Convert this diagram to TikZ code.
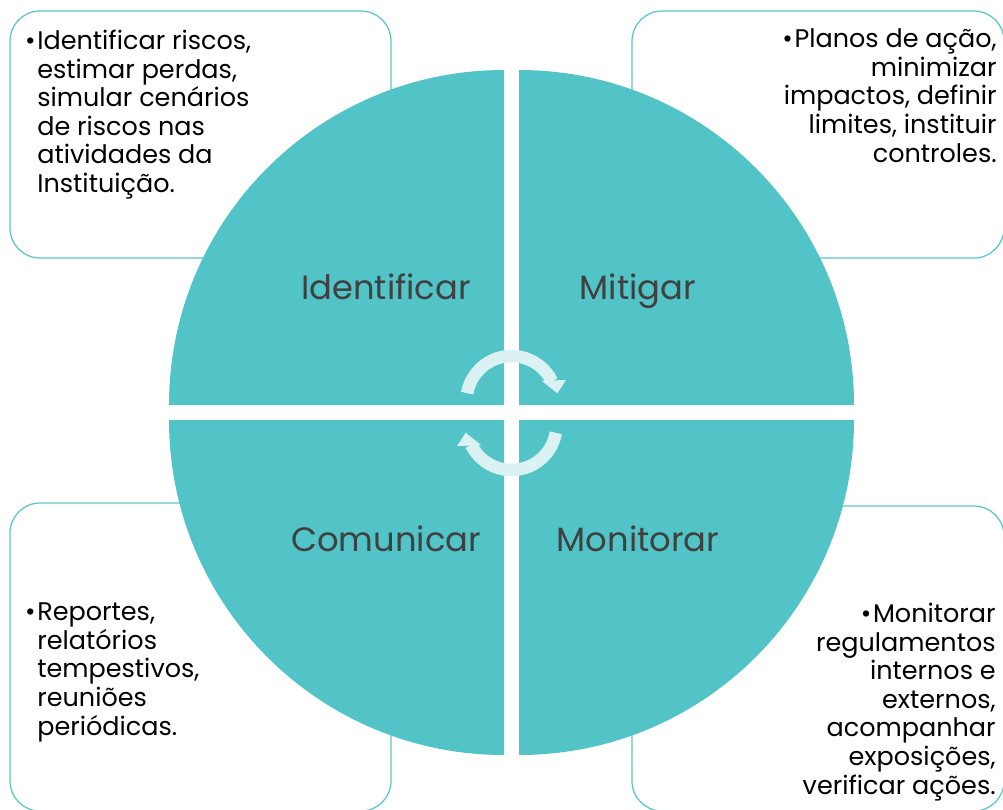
\documentclass[tikz,border=0pt]{standalone}
\usepackage{fontspec}
\setmainfont{Poppins}
\usetikzlibrary{calc}
\definecolor{quadteal}{HTML}{52C3C6}
\definecolor{boxline}{HTML}{5DC5C8}
\definecolor{cyclewhite}{HTML}{DAF2F3}
\definecolor{labelgray}{HTML}{404040}

\begin{document}
\begin{tikzpicture}[x=0.02cm, y=-0.02cm,
		infobox/.style={draw=boxline, line width=0.025cm, rounded corners=0.6cm, fill=white},
		quadrant/.style={fill=quadteal},
		steplabel/.style={text=labelgray, font=\fontsize{19.2}{23}\selectfont, anchor=base, inner sep=0pt},
		notetext/.style={font=\fontsize{14.5}{16.27}\selectfont, inner sep=0pt, text=black},
		cyclearrow/.pic={
			\draw[cyclewhite, line width=0.25cm] (0,-12) ++(190:45) arc (190:334:45);
			\fill[cyclewhite] (30.2,-32.3) -- (54.5,-33) -- (45.8,-19.7) -- cycle;
		}]
			%%%%% START %%%%%
			
			\useasboundingbox (0,0) rectangle (1003,809);
			\clip (0,0) rectangle (1003,809);
			
			% corner boxes
			\draw[infobox] (10,11) rectangle (391,258);
			\draw[infobox] (632,11) rectangle (1004,258);
			\draw[infobox] (10,503) rectangle (391,811);
			\draw[infobox] (632,506) rectangle (1004,811);
			
			% the four quarters of the disc
			\fill[quadrant] (504,405) -- (169,405) arc (180:270:335) -- cycle;
			\fill[quadrant] (519,405) -- (854,405) arc (0:-90:335) -- cycle;
			\fill[quadrant] (504,420) -- (169,420) arc (180:90:335) -- cycle;
			\fill[quadrant] (519,420) -- (854,420) arc (0:90:335) -- cycle;
			
			\pic at (511.5,413) {cyclearrow};
			\pic[rotate=180] at (511.5,413) {cyclearrow};
			
			\node[steplabel] (identify) at (386,299) {Identificar};
			\node[steplabel] (mitigate) at (638,299) {Mitigar};
			\node[steplabel] (report) at (386,551) {Comunicar};
			\node[steplabel] (monitor) at (638,551) {Monitorar};
			
			% notes: anchored at the baseline of their last line
			\node[notetext, anchor=base west, align=left] (identifynote) at (37,192.5)
				{\llap{•\kern1pt}Identificar riscos,\\estimar perdas,\\simular cenários\\de riscos nas\\atividades da\\Instituição.};
			\node[notetext, anchor=base east, align=right] (mitigatenote) at (997,162)
				{•\kern1ptPlanos de ação,\\minimizar\\impactos, definir\\limites, instituir\\controles.};
			\node[notetext, anchor=base west, align=left] (reportnote) at (37,735)
				{\llap{•\kern1pt}Reportes,\\relatórios\\tempestivos,\\reuniões\\periódicas.};
			\node[notetext, anchor=base east, align=right] (monitornote) at (996,794)
				{•\kern1ptMonitorar\\regulamentos\\internos e\\externos,\\acompanhar\\exposições,\\verificar ações.};
			
			%%%%% END %%%%%
\end{tikzpicture}
\end{document}
